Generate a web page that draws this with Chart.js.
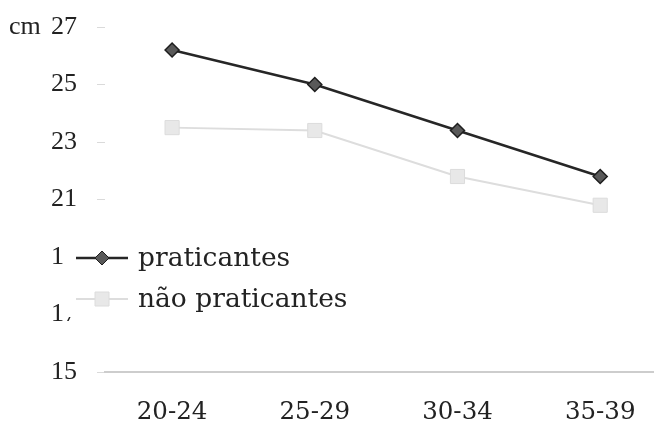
<!DOCTYPE html>
<html>
<head>
<meta charset="utf-8">
<script src="https://cdn.jsdelivr.net/npm/chart.js@4.4.1/dist/chart.umd.min.js"></script>
<style>
  html, body { margin: 0; padding: 0; background: #fff; overflow: hidden; }
  #wrap { width: 655px; height: 426px; position: relative; }
  #c { display: block; }
</style>
</head>
<body>
<div id="wrap"><canvas id="c"></canvas></div>
<script>
// Age groups (years) and average measurement in cm
const ageGroups = ['20-24', '25-29', '30-34', '35-39'];
const praticantes = [26.2, 25.0, 23.4, 21.8];
const naoPraticantes = [23.5, 23.4, 21.8, 20.8];
const yTicks = [15, 17, 19, 21, 23, 25, 27];
const unitLabel = 'cm';

const SERIF = '"Liberation Serif", "Times New Roman", serif';
const LABEL_SERIF = '"DejaVu Serif", serif';

const toPoints = arr => arr.map((v, i) => ({ x: i, y: v }));

function drawMarker(ctx, style, r, x, y) {
  if (style === 'rectRot') {
    ctx.moveTo(x - r, y);
    ctx.lineTo(x, y - r);
    ctx.lineTo(x + r, y);
    ctx.lineTo(x, y + r);
    ctx.closePath();
  } else {
    ctx.rect(x - r, y - r, 2 * r, 2 * r);
  }
}

// Legend drawn inside the plot on a white panel, lower left
const innerLegend = {
  id: 'innerLegend',
  afterDraw(chart) {
    const ctx = chart.ctx;
    ctx.save();
    ctx.fillStyle = '#ffffff';
    ctx.fillRect(64, 236, 300, 81);
    const rowsY = [258, 299];
    chart.data.datasets.forEach((ds, i) => {
      const y = rowsY[i];
      ctx.strokeStyle = ds.borderColor;
      ctx.lineWidth = ds.borderWidth;
      ctx.beginPath();
      ctx.moveTo(76, y);
      ctx.lineTo(128, y);
      ctx.stroke();
      ctx.fillStyle = ds.pointBackgroundColor;
      ctx.strokeStyle = ds.pointBorderColor;
      ctx.lineWidth = 1;
      ctx.beginPath();
      drawMarker(ctx, ds.pointStyle, ds.legendRadius, 102, y);
      ctx.fill();
      ctx.stroke();
      ctx.fillStyle = '#222';
      ctx.font = '26.5px ' + LABEL_SERIF;
      ctx.textBaseline = 'middle';
      ctx.textAlign = 'left';
      ctx.fillText(ds.label, 138, y + 1);
    });
    ctx.restore();
  }
};

// Unit label beside the top tick
const unitPlugin = {
  id: 'unitPlugin',
  afterDraw(chart) {
    const ctx = chart.ctx;
    const ys = chart.scales.y;
    ctx.save();
    ctx.fillStyle = '#222';
    ctx.font = '26px ' + SERIF;
    ctx.textBaseline = 'middle';
    ctx.textAlign = 'left';
    ctx.fillText(unitLabel, 9, ys.getPixelForValue(yTicks[yTicks.length - 1]));
    ctx.restore();
  }
};

function clearScalePadding(scale) {
  scale.paddingTop = 0;
  scale.paddingBottom = 0;
  scale.paddingLeft = 0;
  scale.paddingRight = 0;
}

new Chart(document.getElementById('c'), {
  type: 'line',
  data: {
    datasets: [
      {
        label: 'praticantes',
        data: toPoints(praticantes),
        borderColor: '#262626',
        borderWidth: 2.5,
        pointStyle: 'rectRot',
        pointRadius: 7,
        pointBackgroundColor: '#595959',
        pointBorderColor: '#1e1e1e',
        pointBorderWidth: 1.5,
        legendRadius: 7,
        tension: 0
      },
      {
        label: 'não praticantes',
        data: toPoints(naoPraticantes),
        borderColor: '#dddddd',
        borderWidth: 2,
        pointStyle: 'rect',
        pointRadius: 10,
        pointBackgroundColor: '#e8e8e8',
        pointBorderColor: '#dcdcdc',
        pointBorderWidth: 1,
        legendRadius: 7,
        tension: 0
      }
    ]
  },
  options: {
    responsive: true,
    maintainAspectRatio: false,
    animation: false,
    events: [],
    layout: { autoPadding: false, padding: { top: 27, right: 2, bottom: 0, left: 0 } },
    plugins: {
      legend: { display: false },
      tooltip: { enabled: false }
    },
    scales: {
      x: {
        type: 'linear',
        min: -0.47,
        max: 3.37,
        afterBuildTicks(scale) {
          scale.ticks = ageGroups.map((_, i) => ({ value: i }));
        },
        afterFit(scale) {
          scale.height = 54;
          clearScalePadding(scale);
        },
        grid: { display: false, drawTicks: false },
        border: { display: true, color: '#cdcdcd', width: 2 },
        ticks: {
          padding: 26,
          color: '#222',
          font: { family: LABEL_SERIF, size: 24.5 },
          callback: v => ageGroups[v]
        }
      },
      y: {
        min: yTicks[0],
        max: yTicks[yTicks.length - 1],
        afterBuildTicks(scale) {
          scale.ticks = yTicks.map(v => ({ value: v }));
        },
        afterFit(scale) {
          scale.width = 105;
          clearScalePadding(scale);
        },
        grid: {
          drawOnChartArea: false,
          drawTicks: true,
          tickLength: 8,
          color: '#dadada'
        },
        border: { display: false },
        ticks: {
          padding: 20,
          color: '#222',
          font: { family: SERIF, size: 26 }
        }
      }
    }
  },
  plugins: [innerLegend, unitPlugin]
});
</script>
</body>
</html>
